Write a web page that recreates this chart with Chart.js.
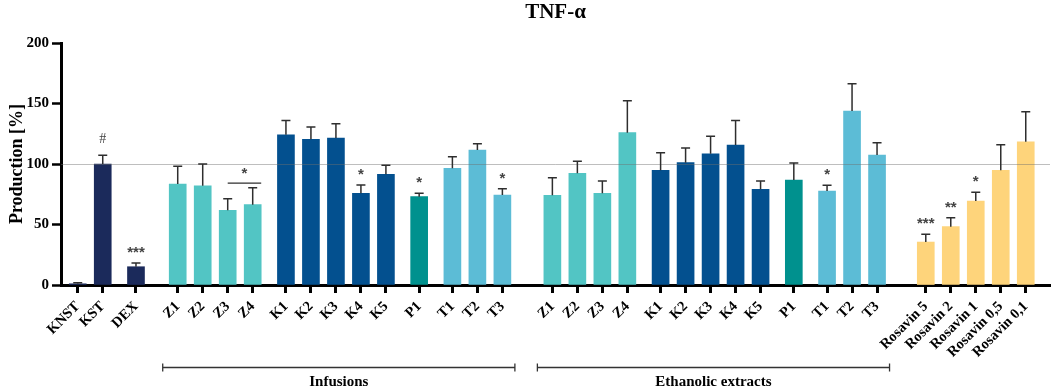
<!DOCTYPE html>
<html>
<head>
<meta charset="utf-8">
<script src="https://cdn.jsdelivr.net/npm/chart.js@4/dist/chart.umd.min.js"></script>
<style>
  html, body { margin: 0; padding: 0; background: #fff; }
  #wrap { width: 1052px; height: 387px; position: relative; }
</style>
</head>
<body>
<div id="wrap"><canvas id="chart"></canvas></div>
<script>
// bar labels, left to right
const labels = ['KNST', 'KST', 'DEX',
  'Z1', 'Z2', 'Z3', 'Z4', 'K1', 'K2', 'K3', 'K4', 'K5', 'P1', 'T1', 'T2', 'T3',
  'Z1', 'Z2', 'Z3', 'Z4', 'K1', 'K2', 'K3', 'K4', 'K5', 'P1', 'T1', 'T2', 'T3',
  'Rosavin 5', 'Rosavin 2', 'Rosavin 1', 'Rosavin 0,5', 'Rosavin 0,1'];

// TNF-alpha production [%]
const values = [1, 100, 15.1,
  83.5, 82, 61.7, 66.4, 124.2, 120.4, 121.5, 75.8, 91.5, 73, 96.4, 111.6, 74.4,
  74.1, 92.3, 75.8, 125.9, 94.8, 101.1, 108.5, 115.7, 79.1, 86.8, 77.7, 143.8, 107.4,
  35.5, 48.2, 69.4, 94.8, 118.4];

// upper error (SD)
const errors = [0.8, 7.2, 3.1,
  14.6, 18, 9.6, 14, 11.8, 10.2, 11.8, 6.8, 7.4, 2.8, 9.6, 5.2, 5.2,
  14.6, 9.9, 10.2, 26.4, 14.5, 12.1, 14.4, 20.3, 6.9, 14, 4.7, 22.6, 10.2,
  6.4, 7.4, 7.2, 21.2, 24.8];

// significance marks above bars
const marks = ['', '#', '***',
  '', '', '', '', '', '', '', '*', '', '*', '', '', '*',
  '', '', '', '', '', '', '', '', '', '', '*', '', '',
  '***', '**', '*', '', ''];

// comparison between two bars (Z3 vs Z4 infusions)
const pairMarks = [{ from: 5, to: 6, text: '*' }];

// bracketed groups under the axis
const groupNames = ['Infusions', 'Ethanolic extracts'];
const groupFirst = [3, 16];
const groupLast = [15, 28];

// sections: controls | infusions | ethanolic | rosavin
const section = i => (i < 3 ? 0 : i < 16 ? 1 : i < 29 ? 2 : 3);
const sectionGap = [0, 0.67, 1.0, 0.95];

// x positions built from the layout (extra space between sections and sub-groups)
const positions = [];
labels.forEach((lab, i) => {
  if (i === 0) { positions.push(0); return; }
  let step = 1;
  if (section(i) !== section(i - 1)) step += sectionGap[section(i)];
  else if (lab[0] !== labels[i - 1][0]) step += 0.33;
  positions.push(positions[i - 1] + step);
});

const colorFor = (lab, i) => {
  if (i < 3) return '#1b2a5b';
  if (lab.startsWith('Rosavin')) return '#fed47b';
  return { Z: '#52c5c4', K: '#03508f', P: '#00918e', T: '#5cbcd6' }[lab[0]];
};
const barColors = labels.map(colorFor);

const serif = '"Liberation Serif", "Times New Roman", serif';
const starFont = 'bold 15px "Liberation Sans", Arial, sans-serif';

const extras = {
  id: 'extras',
  afterDatasetsDraw(chart) {
    const { ctx } = chart;
    const x = chart.scales.x, y = chart.scales.y;
    ctx.save();
    // reference line at 100 %
    ctx.strokeStyle = 'rgba(110,110,110,0.45)';
    ctx.lineWidth = 1;
    const y100 = Math.round(y.getPixelForValue(100)) + 0.5;
    ctx.beginPath();
    ctx.moveTo(chart.chartArea.left, y100);
    ctx.lineTo(chart.chartArea.right, y100);
    ctx.stroke();

    // error bars
    ctx.strokeStyle = '#2e2e2e';
    ctx.lineWidth = 1.5;
    const caps = [];
    values.forEach((v, i) => {
      const px = x.getPixelForValue(positions[i]);
      const top = y.getPixelForValue(v);
      const cap = y.getPixelForValue(v + errors[i]);
      caps.push(cap);
      ctx.beginPath();
      ctx.moveTo(px, top);
      ctx.lineTo(px, cap);
      ctx.moveTo(px - 4.5, cap);
      ctx.lineTo(px + 4.5, cap);
      ctx.stroke();
    });

    // significance marks
    ctx.fillStyle = '#444';
    ctx.textAlign = 'center';
    ctx.textBaseline = 'alphabetic';
    marks.forEach((m, i) => {
      if (!m) return;
      ctx.font = m === '#' ? '14px ' + serif : starFont;
      ctx.fillText(m, x.getPixelForValue(positions[i]), caps[i] - (m === '#' ? 12 : 6));
    });

    pairMarks.forEach(p => {
      const x1 = x.getPixelForValue(positions[p.from]);
      const x2 = x.getPixelForValue(positions[p.to]) + 8.5;
      const ly = Math.min(caps[p.from], caps[p.to]) - 4.5;
      ctx.strokeStyle = '#2e2e2e';
      ctx.lineWidth = 1.2;
      ctx.beginPath();
      ctx.moveTo(x1, ly);
      ctx.lineTo(x2, ly);
      ctx.stroke();
      ctx.font = starFont;
      ctx.fillText(p.text, (x1 + x2) / 2, ly - 5);
    });
    ctx.restore();
  },
  afterDraw(chart) {
    const { ctx } = chart;
    const x = chart.scales.x;
    ctx.save();
    ctx.strokeStyle = '#333';
    ctx.lineWidth = 1.3;
    ctx.fillStyle = '#000';
    ctx.font = 'bold 15px ' + serif;
    ctx.textAlign = 'center';
    ctx.textBaseline = 'alphabetic';
    const by = 367.5;
    groupNames.forEach((name, g) => {
      const x1 = x.getPixelForValue(positions[groupFirst[g]]) - 15;
      const x2 = x.getPixelForValue(positions[groupLast[g]]) + 12.5;
      ctx.beginPath();
      ctx.moveTo(x1, by - 4); ctx.lineTo(x1, by + 4);
      ctx.moveTo(x1, by); ctx.lineTo(x2, by);
      ctx.moveTo(x2, by - 4); ctx.lineTo(x2, by + 4);
      ctx.stroke();
      ctx.fillText(name, (x1 + x2) / 2, 386);
    });
    ctx.restore();
  }
};

new Chart(document.getElementById('chart'), {
  type: 'bar',
  data: {
    datasets: [{
      data: values.map((v, i) => ({ x: positions[i], y: v })),
      backgroundColor: barColors,
      borderWidth: 0,
      barThickness: 17
    }]
  },
  options: {
    responsive: true,
    maintainAspectRatio: false,
    animation: false,
    layout: { padding: { left: 0, right: 2, top: 0, bottom: 0 } },
    plugins: {
      legend: { display: false },
      tooltip: { enabled: false },
      title: {
        display: true,
        text: 'TNF-α',
        fullSize: false,
        color: '#000',
        font: { family: serif, size: 21, weight: 'bold' },
        padding: { top: 0, bottom: 17.8 }
      }
    },
    scales: {
      x: {
        type: 'linear',
        offset: false,
        min: -0.67,
        max: 38.9,
        afterBuildTicks: axis => { axis.ticks = positions.map(p => ({ value: p })); },
        afterFit: axis => { axis.height = 102; },
        border: { color: '#000', width: 3 },
        grid: {
          offset: false,
          drawOnChartArea: false,
          drawTicks: true,
          tickLength: 8,
          tickWidth: 3,
          tickColor: '#000'
        },
        ticks: {
          autoSkip: false,
          minRotation: 45,
          maxRotation: 45,
          padding: 5,
          color: '#000',
          font: { family: serif, size: 14.5, weight: 'bold' },
          callback: (v, i) => labels[i]
        }
      },
      y: {
        min: 0,
        max: 200,
        afterFit: axis => { axis.width = 61; },
        border: { color: '#000', width: 3 },
        grid: {
          color: 'transparent',
          drawTicks: true,
          tickLength: 9,
          tickWidth: 2.5,
          tickColor: '#000'
        },
        ticks: {
          stepSize: 50,
          padding: 3,
          color: '#000',
          font: { family: serif, size: 15, weight: 'bold' }
        },
        title: {
          display: true,
          text: 'Production [%]',
          color: '#000',
          font: { family: serif, size: 18, weight: 'bold' },
          padding: { top: 7, bottom: 0 }
        }
      }
    }
  },
  plugins: [extras]
});
</script>
</body>
</html>
